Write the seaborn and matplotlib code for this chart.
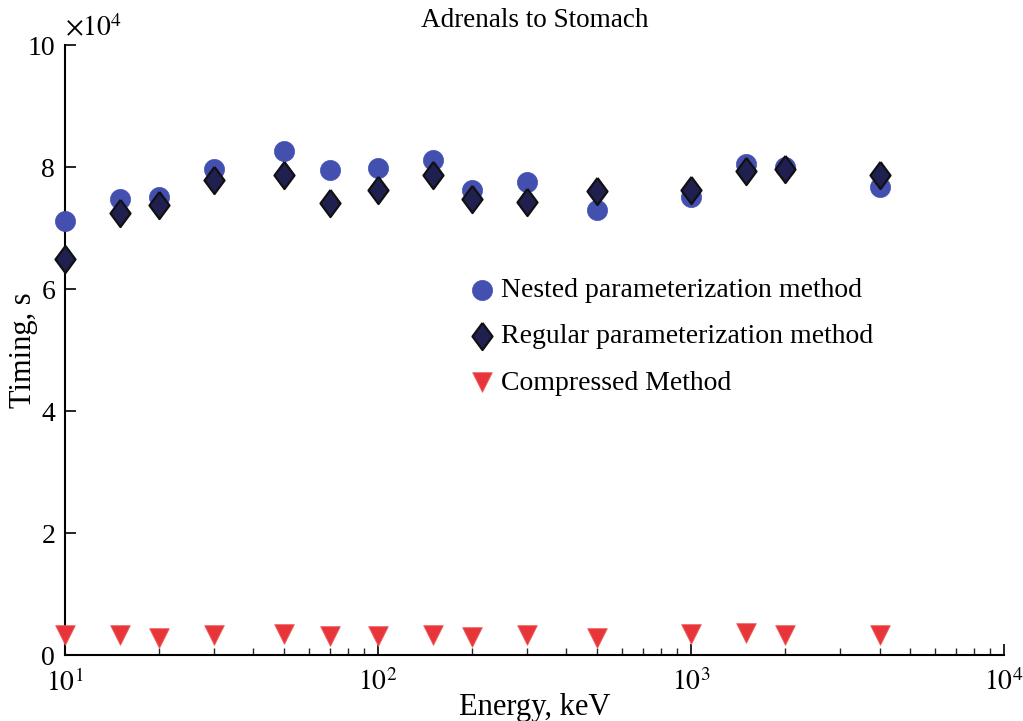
import numpy as np
import pandas as pd
import matplotlib
matplotlib.use('Agg')
import matplotlib.pyplot as plt
import seaborn as sns

# datos (timing en unidades de 1e4 s)
energy = [10, 15, 20, 30, 50, 70, 100, 150, 200, 300, 500, 1000, 1500, 2000, 4000]
nested = [7.11, 7.47, 7.51, 7.97, 8.26, 7.95, 7.98, 8.11, 7.62, 7.75, 7.30, 7.51, 8.05, 8.00, 7.67]
regular = [6.49, 7.25, 7.38, 7.79, 7.87, 7.41, 7.62, 7.87, 7.48, 7.43, 7.61, 7.62, 7.93, 7.97, 7.87]
compressed = [0.33, 0.33, 0.28, 0.33, 0.34, 0.31, 0.31, 0.33, 0.30, 0.33, 0.28, 0.34, 0.36, 0.33, 0.33]

sns.set_style('ticks')
plt.rcParams['font.family'] = ['Liberation Serif', 'DejaVu Serif']
plt.rcParams['mathtext.fontset'] = 'stix'
plt.rcParams['text.color'] = 'black'
plt.rcParams['axes.labelcolor'] = 'black'

fig = plt.figure(figsize=(10.23, 7.21), dpi=100)
ax = fig.add_axes([0.0635, 0.0915, 0.918, 0.846])

diamond = [(0, 1), (0.74, 0), (0, -1), (-0.74, 0), (0, 1)]

sns.scatterplot(x=energy, y=nested, ax=ax, marker='o', s=210, color='#4350b0',
                edgecolor='#4350b0', linewidth=0.5, label='Nested parameterization method',
                zorder=3, clip_on=False)
sns.scatterplot(x=energy, y=regular, ax=ax, marker=diamond, s=380, color='#202050',
                edgecolor='#111111', linewidth=1.6, label='Regular parameterization method',
                zorder=4, clip_on=False)
sns.scatterplot(x=energy, y=compressed, ax=ax, marker='v', s=200, color='#e8353a',
                edgecolor='#f06060', linewidth=0.6, label='Compressed Method',
                zorder=3, clip_on=False)

ax.set_xscale('log')
ax.set_xlim(10, 10000)
ax.set_ylim(0, 10)
ax.set_yticks([0, 2, 4, 6, 8, 10])
ax.set_xticks([10, 100, 1000, 10000])
ax.set_xticklabels([r'$10^1$', r'$10^2$', r'$10^3$', r'$10^4$'])

sns.despine(ax=ax)
ax.spines['left'].set_linewidth(1.5)
ax.spines['bottom'].set_linewidth(1.5)
ax.spines['left'].set_color('black')
ax.spines['bottom'].set_color('black')
ax.tick_params(axis='both', which='major', direction='in', length=8, width=1.2,
               labelsize=20, colors='black')
ax.tick_params(axis='y', which='major', pad=7)
ax.tick_params(axis='x', which='major', pad=10)
ax.tick_params(axis='x', which='minor', direction='in', length=5, width=1.0)

ax.text(0.0, 1.005, r'$\times10^4$', transform=ax.transAxes, fontsize=20,
        ha='left', va='bottom')
ax.set_title('Adrenals to Stomach', fontsize=19.5, pad=13)
ax.set_xlabel('Energy, keV', fontsize=22)
ax.xaxis.set_label_coords(0.5, -0.062)
ax.set_ylabel('Timing, s', fontsize=22)
ax.yaxis.set_label_coords(-0.029, 0.5)

leg = ax.legend(loc='upper left', bbox_to_anchor=(0.417, 0.637), frameon=False,
                fontsize=20, handletextpad=0.2, handlelength=1.0, labelspacing=0.75,
                borderaxespad=0, markerscale=1.0)

plt.savefig('out.png', dpi=100)
